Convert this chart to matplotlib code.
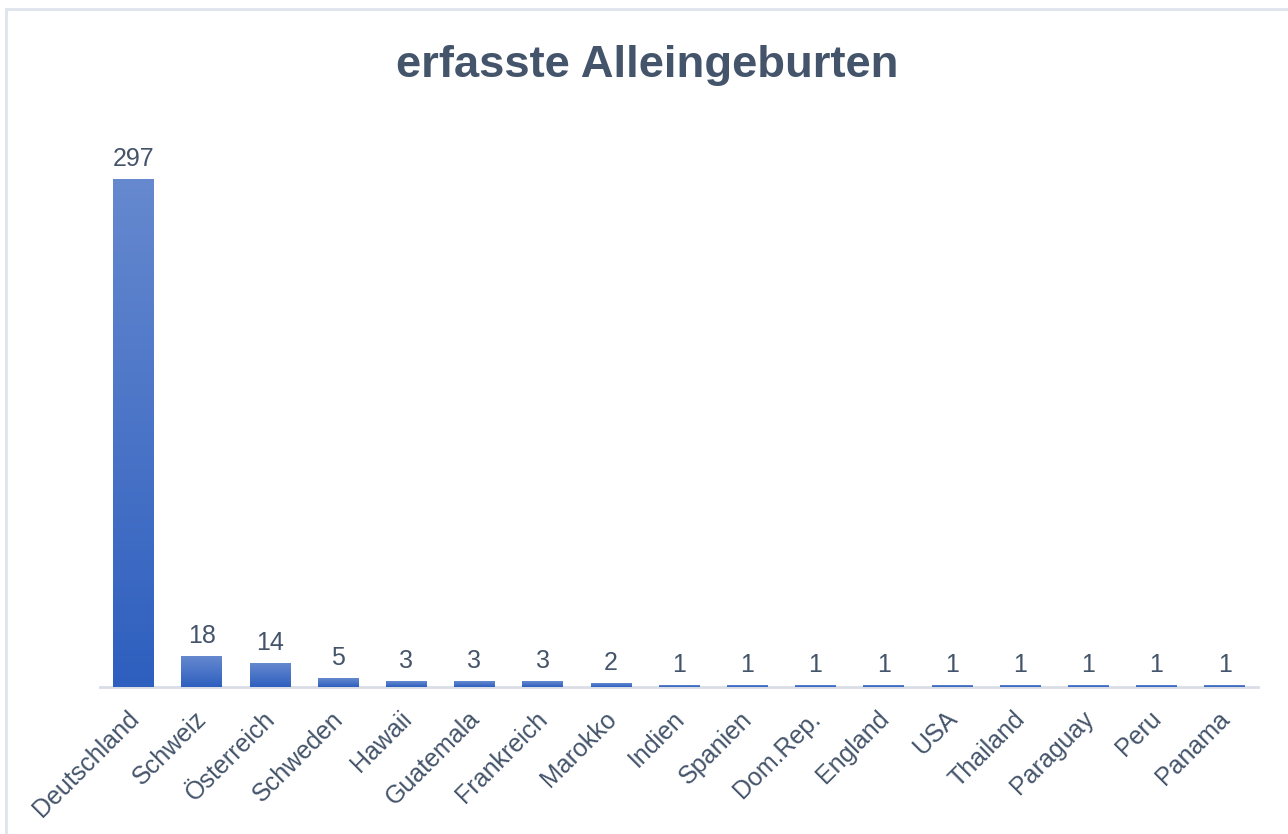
import matplotlib
matplotlib.use("Agg")
import matplotlib.pyplot as plt
import matplotlib.transforms as mtransforms
import numpy as np
from matplotlib.patches import Rectangle
from matplotlib.colors import LinearSegmentedColormap

categories = ["Deutschland", "Schweiz", "Österreich", "Schweden", "Hawaii",
              "Guatemala", "Frankreich", "Marokko", "Indien", "Spanien",
              "Dom.Rep.", "England", "USA", "Thailand", "Paraguay", "Peru", "Panama"]
values = [297, 18, 14, 5, 3, 3, 3, 2, 1, 1, 1, 1, 1, 1, 1, 1, 1]
title = "erfasste Alleingeburten"

text_color = "#44546a"
plt.rcParams['font.family'] = ['Liberation Sans', 'DejaVu Sans']

fig = plt.figure(figsize=(12.88, 8.34), dpi=100)
fig.patch.set_facecolor("white")
fig.patches.append(Rectangle((6/1288, -0.1), 1.2, (834 - 9)/834 + 0.1,
                             transform=fig.transFigure, fill=False,
                             edgecolor="#dfe3ec", linewidth=2, zorder=0))

ax = fig.add_axes([100/1288, (834-687)/834, 1158/1288, (687-140)/834])
x = np.arange(len(categories))
bars = ax.bar(x, values, width=0.59, color="none", edgecolor="none")

cmap = LinearSegmentedColormap.from_list("g", ["#2e5fbf", "#6689cf"])
grad = np.linspace(0, 1, 256).reshape(-1, 1)
for b in bars:
    x0, w, h = b.get_x(), b.get_width(), b.get_height()
    ax.imshow(grad, extent=[x0, x0 + w, 0, h], origin="lower", cmap=cmap,
              aspect="auto", zorder=2, interpolation="bilinear")
    ax.text(x0 + w/2, h + 5, f"{int(h)}", ha="center", va="bottom",
            fontsize=18, color=text_color, zorder=3)

ax.set_xlim(-0.49, len(categories) - 0.51)
ax.set_ylim(0, 320)
for s in ["top", "right", "left"]:
    ax.spines[s].set_visible(False)
ax.spines["bottom"].set_color("#d9dde6")
ax.spines["bottom"].set_linewidth(2)
ax.spines["bottom"].set_zorder(1)
ax.set_yticks([])
ax.set_xticks(x)
ax.set_xticklabels(categories, rotation=45, ha="right", rotation_mode="anchor",
                   fontsize=18, color=text_color)
ax.tick_params(axis="x", length=0, pad=12)
offset = mtransforms.ScaledTranslation(-7/100, -3/100, fig.dpi_scale_trans)
for lbl in ax.get_xticklabels():
    lbl.set_transform(lbl.get_transform() + offset)

fig.text(647/1288, 1 - 65/834, title, ha="center", va="center",
         fontsize=32.7, fontweight="bold", color=text_color)

fig.savefig("out.png", dpi=100)
